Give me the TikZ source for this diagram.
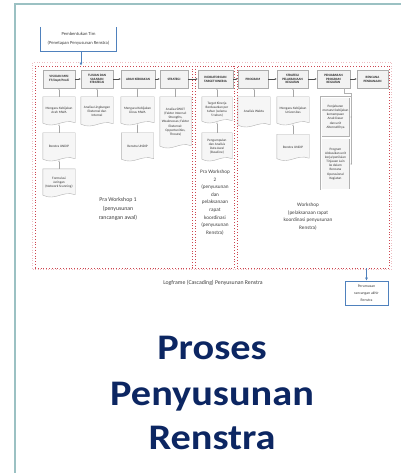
\documentclass[tikz,border=0pt]{standalone}
\usepackage{fontspec}
\setmainfont{Carlito}
\newfontfamily\titlefont[FakeStretch=1.12]{Carlito}
\usetikzlibrary{arrows.meta,calc}
\definecolor{framec}{RGB}{155,193,195}
\definecolor{secred}{RGB}{205,70,80}
\definecolor{navy}{RGB}{12,38,98}
\definecolor{blueb}{RGB}{79,129,189}
\pgfdeclarelayer{bg}
\pgfsetlayers{bg,main}
\tikzset{
 hdr/.style={draw=gray!65, fill=gray!10, line width=0.4pt, inner sep=0pt, align=center,
   font=\fontsize{3.3}{3.9}\selectfont\bfseries, minimum height=18pt, text=black!85},
 docn/.style={inner sep=0pt, align=center, font=\fontsize{3.4}{4.1}\selectfont, text=black!80},
 docline/.style={draw=gray!60, fill=gray!7, line width=0.4pt},
 rectdoc/.style={docn, draw=gray!60, fill=gray!8, line width=0.3pt, double=white, double distance=0.5pt},
 sec/.style={draw=secred, dotted, line width=0.8pt, inner sep=0pt},
 harrow/.style={draw=black!70, line width=0.4pt, -{Latex[length=2pt,width=1.8pt]}},
 varrow/.style={draw=gray!70, line width=0.4pt, -{Latex[length=1.5pt,width=1.5pt]}},
 lbl/.style={align=center, inner sep=0pt, text=black!75},
 bluearrow/.style={draw=blueb, line width=0.6pt, -{Latex[length=3pt,width=3pt]}},
 ttl/.style={font=\titlefont\bfseries\fontsize{36}{45}\selectfont, text=navy, anchor=base, inner sep=0pt},
}
\newcommand\docshape[1]{%
 \begin{pgfonlayer}{bg}
 \draw[docline] (#1.north west) -- ([yshift=1pt]#1.south west)
   .. controls ([yshift=-5pt]$(#1.south west)!0.4!(#1.south east)$)
   and ([yshift=6pt]$(#1.south west)!0.6!(#1.south east)$)
   .. ([yshift=1.5pt]#1.south east) -- (#1.north east) -- cycle;
 \end{pgfonlayer}}
\newcommand\docnode[6]{%
 \node[docn, minimum width=#4pt, minimum height=#5pt] (#1) at (#2,#3) {#6};
 \docshape{#1}}
\begin{document}
\begin{tikzpicture}[x=1pt,y=-1pt]
\useasboundingbox (0,0) rectangle (401,473);
\begin{pgfonlayer}{bg}
\fill[white] (0,0) rectangle (401,473);
\end{pgfonlayer}
% frame
\draw[framec, line width=2.6pt] (15,473) -- (15,4) -- (401,4);

% top box
\node[minimum width=75pt, minimum height=24pt, inner sep=0pt, lbl,
  font=\fontsize{4.6}{9}\selectfont] (pt) at (78.5,39) {Pembentukan Tim\\(Penetapan Penyusunan Renstra)};
\draw[blueb, line width=0.7pt] (pt.north west) -- (pt.south west) -- (pt.south east) -- (pt.north east);

% sections
\node[draw=secred!35, dotted, line width=0.6pt, minimum width=359pt, minimum height=207pt, inner sep=0pt] (outer) at (212,165.5) {};
\node[sec, minimum width=157pt, minimum height=202pt] (sec1) at (113.5,167) {};
\node[sec, minimum width=39pt, minimum height=202pt] (sec2) at (214.5,167) {};
\node[sec, minimum width=152pt, minimum height=202pt] (sec3) at (313,167) {};

\draw[bluearrow] ([xshift=2.5pt]pt.south) -- ([xshift=2.5pt]pt.south |- sec1.north);

% headers
\node[hdr, minimum width=32pt] (h1) at (59,79) {VISI DAN MISI\\FT/Dept/Prodi};
\node[hdr, minimum width=32pt] (h2) at (97,79) {TUJUAN DAN\\SASARAN\\STRATEGIS};
\node[hdr, minimum width=34pt] (h3) at (138,79) {ARAH KEBIJAKAN};
\node[hdr, minimum width=28pt] (h4) at (174,79) {STRATEGI};
\node[hdr, minimum width=35pt] (h5) at (215.5,79) {INDIKATOR DAN\\TARGET KINERJA};
\node[hdr, minimum width=30pt] (h6) at (253,79) {PROGRAM};
\node[hdr, minimum width=31pt] (h7) at (292.5,79) {STRATEGI\\PELAKSANAAN\\KEGIATAN};
\node[hdr, minimum width=33pt] (h8) at (333.5,79) {PENJABARAN\\PROGRAM\\KEGIATAN};
\node[hdr, minimum width=31pt] (h9) at (372.5,79) {RENCANA\\PENDANAAN};
\foreach \a/\b in {h1/h2,h2/h3,h3/h4,h4/h5,h5/h6,h6/h7,h7/h8,h8/h9}
  \draw[harrow] (\a.east) -- (\b.west);

% documents
\docnode{d1a}{59}{110.5}{32}{27}{Mengacu Kebijakan\\Arah MWA}
\docnode{d1b}{59}{146.5}{32}{27}{Renstra UNDIP}
\docnode{d1c}{59}{182.5}{32}{27}{Formulasi\\Jaringan\\(Network Scanning)}
\docnode{d2a}{97}{111}{32}{28}{Analisa Lingkungan\\Eksternal dan\\Internal}
\docnode{d3a}{137.5}{110.5}{33}{27}{Mengacu Kebijakan\\Dinas MWA}
\docnode{d3b}{137.5}{146.5}{32}{27}{Renstra UNDIP}
\docnode{d4a}{175.5}{122}{31}{50}{Analisa SWOT\\(Faktor Internal:\\Strengths,\\Weaknesses; Faktor\\Eksternal:\\Opportunities,\\Threats)}
\docnode{d5a}{217}{109.5}{30}{25}{Target Kinerja\\Berdasarkan per\\tahun (selama\\5 tahun)}
\docnode{d5b}{217}{146.5}{30}{27}{Pengumpulan\\dan Analisis\\Data Awal\\(Baseline)}
\docnode{d6a}{254}{111.5}{32}{29}{Analisis Waktu}
\docnode{d7a}{293}{110.5}{32}{27}{Mengacu Kebijakan\\Universitas}
\docnode{d7b}{293}{147}{32}{25}{Renstra UNDIP}
\node[rectdoc, minimum width=29pt, minimum height=40pt] (d8a) at (335.5,117) {Penjabaran\\menurut kebijakan\\kemampuan\\Anak Dasar\\dan unit\\Alternatifnya};
\node[rectdoc, minimum width=29pt, minimum height=51pt] (d8b) at (335.5,164) {Program\\Alokasikan unit\\kerja/penilaian\\Tinjauan Lain\\ke dalam\\Rencana\\Operasional\\Kegiatan};

% vertical connectors
\draw[varrow] (d1a.north) -- (h1.south);
\draw[varrow] (d1b.north) -- (d1a.south);
\draw[varrow] (d1c.north) -- (d1b.south);
\draw[varrow] (d2a.north) -- (h2.south);
\draw[varrow] (d3a.north) -- (d3a.north |- h3.south);
\draw[varrow] (d3b.north) -- (d3b.north |- d3a.south);
\draw[varrow] (d4a.north) -- (d4a.north |- h4.south);
\draw[varrow] (d5a.north) -- (d5a.north |- h5.south);
\draw[varrow] (d5b.north) -- (d5a.south);
\draw[varrow] (d6a.north) -- (d6a.north |- h6.south);
\draw[varrow] (d7a.north) -- (d7a.north |- h7.south);
\draw[varrow] (d7b.north) -- (d7a.south);
\coordinate (br) at (351.5,93);
\draw[gray!60, line width=0.4pt] ([xshift=-6pt]h8.south east) |- (br) -- (br |- d8b.east);
\draw[varrow] (br |- d8a.east) -- (d8a.east);
\draw[varrow] (br |- d8b.east) -- (d8b.east);

% section labels
\node[lbl, font=\fontsize{5.8}{9}\selectfont] (pw1) at (118,209) {Pra Workshop 1\\(penyusunan\\rancangan awal)};
\node[lbl, font=\fontsize{5.2}{7.6}\selectfont] (pw2) at (215,202.5) {Pra Workshop\\2\\(penyusunan\\dan\\pelaksanaan\\rapat\\koordinasi\\(penyusunan\\Renstra)};
\node[lbl, font=\fontsize{5.2}{7.7}\selectfont] (ws) at (308,216.5) {Workshop\\(pelaksanaan rapat\\koordinasi penyusunan\\Renstra)};
\node[lbl, font=\fontsize{5.8}{7}\selectfont] (lf) at (213,283) {Logframe (Cascading) Penyusunan Renstra};

% final box
\node[draw=blueb, line width=0.7pt, minimum width=43pt, minimum height=24pt, inner sep=0pt, lbl,
  font=\fontsize{3.8}{7}\selectfont] (per) at (366.5,293) {Perumusan\\rancangan akhir\\Renstra};
\draw[bluearrow] (sec3.south -| per.north) -- (per.north);

% title
\node[ttl] (t1) at (212,359) {Proses};
\node[ttl] (t2) at (212,405) {Penyusunan};
\node[ttl] (t3) at (212,449) {Renstra};
\end{tikzpicture}
\end{document}
